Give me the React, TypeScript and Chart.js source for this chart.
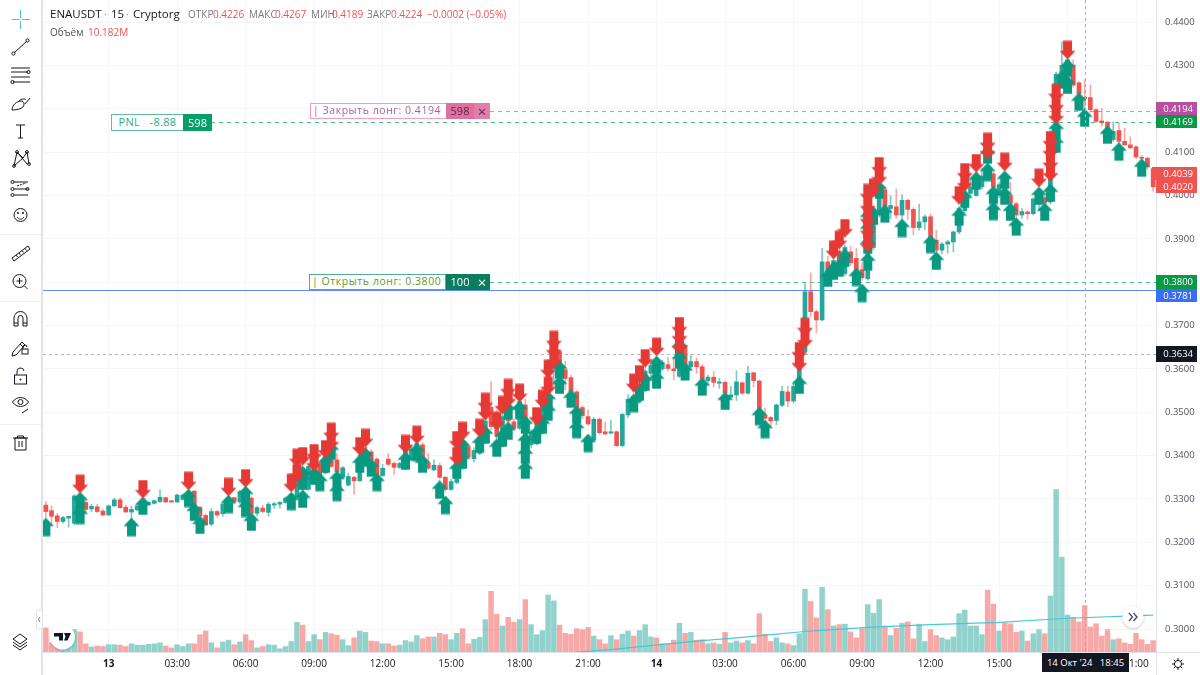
import React, { useEffect, useRef } from 'react';
import { Chart, registerables } from 'chart.js';

Chart.register(...registerables);

const FONT = '"Open Sans", sans-serif';

// 15 minute candles, 195 of them, starting 12 Oct 21:15
const times: string[] = [];
for (let i = 0; i < 195; i++) {
    const mins = (i - 11) * 15;
    const day = mins < 0 ? 12 : mins < 1440 ? 13 : 14;
    const m = ((mins % 1440) + 1440) % 1440;
    times.push(`${day} ${String(Math.floor(m / 60)).padStart(2, '0')}:${String(m % 60).padStart(2, '0')}`);
}

const axisTickTimes = ['13 00:00', '13 03:00', '13 06:00', '13 09:00', '13 12:00', '13 15:00', '13 18:00', '13 21:00', '14 00:00', '14 03:00', '14 06:00', '14 09:00', '14 12:00', '14 15:00', '14 18:00', '14 21:00'];
const axisTickLabels = ['13', '03:00', '06:00', '09:00', '12:00', '15:00', '18:00', '21:00', '14', '03:00', '06:00', '09:00', '12:00', '15:00', '18:00', '21:00'];

const opens = [
    .3286, .3273, .3261, .3248, .3256, .3244, .3305, .3292, .3277, .3282, .3272, .3263, .3284, .3298, .3281, .3270, .3275, .3276, .3287, .3290,
    .3294, .3303, .3296, .3293, .3299, .3300, .3318, .3281, .3262, .3242, .3271, .3266, .3283, .3303, .3293, .3320, .3302, .3267, .3279, .3269,
    .3286, .3288, .3292, .3290, .3305, .3355, .3322, .3355, .3378, .3360, .3409, .3390, .3350, .3332, .3350, .3342, .3383, .3409, .3392, .3354,
    .3392, .3382, .3373, .3371, .3390, .3412, .3425, .3383, .3367, .3377, .3350, .3322, .3338, .3425, .3421, .3393, .3405, .3440, .3512, .3500,
    .3445, .3535, .3478, .3463, .3517, .3425, .3427, .3480, .3560, .3600, .3640, .3598, .3580, .3547, .3511, .3490, .3436, .3484, .3455, .3452,
    .3455, .3423, .3494, .3535, .3525, .3550, .3590, .3610, .3600, .3610, .3600, .3583, .3655, .3605, .3617, .3605, .3573, .3581, .3567, .3569,
    .3535, .3540, .3568, .3544, .3591, .3572, .3494, .3488, .3481, .3516, .3547, .3526, .3560, .3640, .3778, .3732, .3713, .3847, .3825, .3870,
    .3820, .3870, .3855, .3829, .3808, .3880, .3955, .4013, .3970, .3974, .3955, .3989, .3968, .3926, .3939, .3951, .3897, .3874, .3888, .3893,
    .3916, .3965, .4005, .4000, .4020, .4060, .4050, .4000, .4040, .4000, .3981, .3955, .3962, .3958, .3990, .3995, .3985, .4145, .4280, .4290,
    .4301, .4260, .4226, .4226, .4198, .4172, .4169, .4129, .4150, .4125, .4117, .4112, .4088, .4086, .4062,
];
const closes = [
    .3271, .3260, .3248, .3257, .3260, .3307, .3275, .3276, .3283, .3271, .3263, .3284, .3298, .3280, .3270, .3276, .3284, .3290, .3292, .3296,
    .3304, .3293, .3293, .3309, .3309, .3315, .3283, .3261, .3240, .3271, .3263, .3288, .3302, .3294, .3317, .3280, .3267, .3280, .3271, .3288,
    .3289, .3292, .3302, .3310, .3355, .3322, .3375, .3382, .3344, .3413, .3375, .3363, .3372, .3352, .3342, .3386, .3413, .3390, .3355, .3371,
    .3380, .3373, .3382, .3413, .3415, .3428, .3383, .3371, .3378, .3350, .3322, .3340, .3420, .3400, .3397, .3412, .3440, .3480, .3467, .3445,
    .3490, .3480, .3463, .3525, .3428, .3455, .3490, .3540, .3600, .3640, .3613, .3578, .3547, .3505, .3492, .3473, .3484, .3453, .3450, .3455,
    .3423, .3495, .3530, .3525, .3555, .3595, .3608, .3595, .3615, .3601, .3596, .3660, .3605, .3617, .3605, .3576, .3581, .3569, .3570, .3545,
    .3540, .3570, .3544, .3590, .3573, .3495, .3486, .3480, .3517, .3548, .3526, .3560, .3640, .3778, .3732, .3713, .3847, .3824, .3850, .3845,
    .3880, .3845, .3828, .3810, .3880, .3955, .4010, .3963, .3977, .3955, .3989, .3968, .3926, .3939, .3951, .3874, .3874, .3888, .3893, .3916,
    .3970, .4005, .4020, .4040, .4045, .4040, .4020, .4025, .4015, .3982, .3955, .3963, .3958, .3992, .4010, .3983, .4145, .4280, .4300, .4313,
    .4255, .4234, .4224, .4198, .4171, .4168, .4135, .4148, .4125, .4117, .4110, .4089, .4086, .4066, .4020,
];
const highs = [
    .3294, .3284, .3267, .3260, .3261, .3310, .3310, .3296, .3288, .3288, .3276, .3286, .3302, .3302, .3286, .3284, .3288, .3295, .3294, .3298,
    .3321, .3304, .3297, .3311, .3312, .3318, .3320, .3283, .3265, .3278, .3273, .3290, .3305, .3304, .3320, .3322, .3305, .3283, .3285, .3292,
    .3292, .3294, .3305, .3312, .3358, .3360, .3378, .3385, .3382, .3416, .3412, .3405, .3375, .3360, .3352, .3390, .3416, .3414, .3395, .3380,
    .3405, .3385, .3385, .3416, .3425, .3435, .3430, .3405, .3390, .3383, .3352, .3345, .3425, .3440, .3425, .3418, .3448, .3490, .3571, .3505,
    .3495, .3540, .3485, .3530, .3530, .3460, .3495, .3545, .3610, .3660, .3645, .3618, .3586, .3550, .3515, .3505, .3488, .3486, .3478, .3482,
    .3457, .3498, .3540, .3555, .3560, .3600, .3612, .3614, .3620, .3626, .3624, .3680, .3660, .3632, .3625, .3610, .3586, .3594, .3578, .3572,
    .3560, .3596, .3570, .3606, .3593, .3574, .3510, .3490, .3519, .3560, .3560, .3565, .3650, .3797, .3822, .3736, .3878, .3860, .3858, .3880,
    .3885, .3882, .3878, .3845, .3890, .3962, .4040, .4020, .4000, .4015, .4002, .3992, .3972, .3980, .3955, .3957, .3920, .3892, .3897, .3918,
    .3975, .4010, .4035, .4045, .4062, .4075, .4055, .4030, .4050, .4030, .3985, .3970, .3965, .3995, .4015, .4000, .4150, .4285, .4355, .4345,
    .4313, .4263, .4267, .4255, .4200, .4201, .4172, .4170, .4167, .4155, .4135, .4115, .4092, .4088, .4065,
];
const lows = [
    .3256, .3240, .3234, .3244, .3235, .3240, .3265, .3270, .3271, .3269, .3261, .3262, .3283, .3279, .3269, .3252, .3272, .3272, .3285, .3288,
    .3292, .3292, .3292, .3292, .3297, .3298, .3280, .3258, .3238, .3238, .3258, .3260, .3280, .3290, .3290, .3278, .3263, .3261, .3268, .3260,
    .3278, .3279, .3290, .3288, .3303, .3318, .3320, .3352, .3340, .3358, .3372, .3358, .3346, .3330, .3311, .3340, .3380, .3385, .3350, .3352,
    .3376, .3356, .3370, .3368, .3388, .3410, .3370, .3367, .3365, .3346, .3318, .3320, .3335, .3395, .3395, .3385, .3402, .3438, .3460, .3440,
    .3442, .3475, .3458, .3460, .3425, .3418, .3425, .3478, .3530, .3560, .3605, .3552, .3540, .3500, .3485, .3470, .3432, .3450, .3448, .3450,
    .3421, .3420, .3488, .3510, .3520, .3548, .3585, .3590, .3596, .3596, .3575, .3580, .3600, .3602, .3590, .3570, .3567, .3558, .3555, .3540,
    .3530, .3527, .3541, .3542, .3558, .3490, .3470, .3469, .3471, .3513, .3513, .3522, .3555, .3638, .3721, .3683, .3711, .3820, .3818, .3835,
    .3815, .3838, .3795, .3805, .3805, .3875, .3950, .3955, .3947, .3947, .3943, .3945, .3909, .3920, .3922, .3870, .3870, .3866, .3867, .3870,
    .3912, .3960, .4000, .3998, .4015, .4035, .4015, .3995, .4005, .3978, .3950, .3947, .3945, .3955, .3965, .3960, .3980, .4140, .4270, .4285,
    .4250, .4225, .4189, .4192, .4168, .4160, .4130, .4125, .4090, .4115, .4108, .4085, .4082, .4060, .4010,
];
const volumes = [
    5.3, 2.0, 1.5, 1.1, 1.8, 4.9, 4.4, 1.8, 1.1, 1.3, 1.2, 1.6, 1.6, 1.5, 1.2, 1.8, 1.5, 1.5, 1.7, 1.8,
    2.0, 1.3, 0.9, 1.6, 1.2, 1.8, 1.8, 3.8, 4.6, 2.0, 0.9, 2.2, 2.6, 1.6, 2.2, 3.8, 2.5, 0.9, 1.2, 1.6,
    1.5, 0.7, 1.2, 2.3, 6.5, 5.9, 2.3, 3.8, 2.7, 4.3, 4.0, 3.7, 2.7, 1.4, 3.1, 4.6, 4.3, 2.4, 2.3, 1.8,
    1.8, 1.3, 1.5, 2.5, 2.2, 3.6, 2.9, 3.3, 3.3, 4.1, 3.8, 2.7, 4.1, 5.1, 1.8, 2.8, 3.2, 7.1, 13.3, 8.3,
    5.7, 7.6, 6.5, 7.1, 11.5, 6.0, 3.8, 4.7, 12.5, 11.2, 5.9, 4.1, 3.9, 5.1, 4.9, 5.4, 3.5, 2.7, 1.8, 3.6,
    2.7, 3.9, 4.6, 3.5, 4.7, 6.0, 3.3, 3.1, 1.8, 1.8, 2.6, 6.3, 4.1, 4.3, 2.6, 2.7, 1.8, 2.0, 1.7, 4.3,
    2.0, 2.4, 2.0, 2.5, 1.8, 8.4, 3.9, 2.3, 3.1, 2.0, 1.8, 1.4, 4.0, 13.8, 11.1, 7.5, 14.2, 9.3, 5.7, 6.0,
    6.1, 4.4, 3.1, 5.1, 10.4, 8.5, 11.5, 5.7, 3.6, 5.2, 6.3, 6.6, 2.9, 6.1, 2.3, 4.9, 3.6, 3.1, 2.7, 3.3,
    8.4, 9.2, 5.7, 5.7, 3.8, 13.6, 10.5, 4.6, 6.4, 6.2, 4.3, 4.6, 2.4, 4.0, 4.9, 4.0, 12.3, 35.6, 20.8, 8.1,
    7.6, 6.6, 10.18, 5.5, 6.2, 3.5, 4.9, 2.7, 2.9, 2.0, 1.7, 4.1, 2.7, 1.7, 2.5,
];

// volume moving average, only the part that shows above the bottom of the pane
const volMaAt = [93, 99, 105, 109, 115, 121, 127, 133, 138, 144, 155, 167, 179, 194];
const volMa = [0, 0.5, 1.3, 1.8, 2.5, 3.1, 3.8, 4.5, 4.9, 5.4, 6.0, 6.5, 7.4, 8.1];

const sellAt = [6, 17, 25, 32, 35, 43, 44, 44, 45, 47, 47, 49, 50, 50, 55, 56, 63, 65, 72, 72, 73, 76, 77, 77, 79, 80, 81, 81, 83, 86, 87, 88, 88, 89, 89, 89, 103, 104, 105, 107, 111, 111, 111, 132, 132, 133, 133, 138, 139, 140, 144, 144, 144, 144, 144, 145, 146, 146, 160, 161, 161, 163, 165, 165, 168, 174, 176, 176, 176, 176, 177, 177, 177, 179];
const sellPrice = [.3335, .3323, .3342, .3328, .3348, .3337, .3360, .3395, .3399, .3406, .3385, .3415, .3434, .3455, .3422, .3441, .3427, .3448, .3399, .3436, .3457, .3464, .3524, .3503, .3480, .3517, .3556, .3533, .3545, .3491, .3531, .3600, .3561, .3667, .3646, .3623, .3568, .3588, .3625, .3651, .3699, .3678, .3655, .3616, .3641, .3669, .3697, .3875, .3898, .3925, .3891, .3921, .3948, .3978, .4006, .4018, .4045, .4068, .4001, .4031, .4054, .4075, .4105, .4124, .4078, .4041, .4054, .4078, .4105, .4128, .4186, .4211, .4237, .4336];

const buyAt = [0, 6, 6, 15, 17, 25, 26, 27, 32, 35, 35, 36, 43, 45, 45, 45, 47, 48, 49, 50, 51, 51, 55, 56, 57, 58, 63, 65, 66, 69, 70, 72, 73, 73, 76, 77, 79, 80, 81, 81, 83, 84, 84, 84, 84, 86, 87, 88, 88, 90, 90, 92, 93, 93, 95, 103, 104, 105, 107, 107, 111, 111, 112, 115, 119, 125, 126, 132, 137, 138, 139, 140, 142, 143, 144, 144, 144, 144, 145, 146, 147, 150, 155, 156, 160, 161, 163, 165, 165, 166, 166, 168, 168, 169, 170, 174, 175, 176, 177, 177, 178, 179, 179, 181, 182, 186, 188, 192];
const buyPrice = [.3235, .3295, .3263, .3235, .3284, .3302, .3270, .3240, .3288, .3309, .3279, .3247, .3295, .3300, .3342, .3355, .3353, .3339, .3381, .3411, .3344, .3316, .3381, .3397, .3372, .3339, .3388, .3408, .3381, .3321, .3286, .3367, .3420, .3390, .3427, .3448, .3418, .3441, .3457, .3503, .3505, .3471, .3432, .3402, .3367, .3448, .3471, .3501, .3528, .3598, .3563, .3531, .3494, .3461, .3429, .3521, .3547, .3570, .3609, .3575, .3648, .3621, .3594, .3559, .3526, .3491, .3461, .3563, .3810, .3826, .3833, .3856, .3812, .3775, .3948, .3921, .3886, .3847, .3953, .4013, .3958, .3925, .3888, .3849, .3951, .3992, .4034, .4054, .4094, .4001, .3964, .4036, .3999, .3962, .3928, .3999, .3962, .4006, .4119, .4151, .4267, .4294, .4255, .4216, .4179, .4140, .4101, .4064];

const PRICE_UP = '#26a69a';
const PRICE_DOWN = '#ef5350';

function makeArrow(up: boolean, color: string) {
    const c = document.createElement('canvas');
    c.width = 17;
    c.height = 19;
    const g = c.getContext('2d')!;
    g.fillStyle = color;
    g.beginPath();
    const pts = [[8.5, 0], [16.5, 8.5], [13, 8.5], [13, 18.5], [4, 18.5], [4, 8.5], [0.5, 8.5]];
    pts.forEach(([x, y], i) => {
        const py = up ? y : 19 - y;
        if (i === 0) g.moveTo(x, py);
        else g.lineTo(x, py);
    });
    g.closePath();
    g.fill();
    return c;
}

// order lines, kept on the price scale
const priceLines = [
    { price: 0.4194, from: 490, color: '#d98cc4', dash: [4, 4] },
    { price: 0.4169, from: 211, color: '#4cc285', dash: [4, 4] },
    { price: 0.38, from: 490, color: '#4cc285', dash: [4, 4] },
    { price: 0.3781, from: 43, color: '#5b8cff', dash: [] as number[] },
    { price: 0.3634, from: 43, color: '#b4b6bc', dash: [3, 3] },
];

const overlayLines = {
    id: 'overlayLines',
    beforeDatasetsDraw(chart: any) {
        const { ctx, chartArea, scales } = chart;
        ctx.save();
        ctx.lineWidth = 1;
        priceLines.forEach((l) => {
            const y = Math.round(scales.y.getPixelForValue(l.price)) + 0.5;
            ctx.strokeStyle = l.color;
            ctx.setLineDash(l.dash);
            ctx.beginPath();
            ctx.moveTo(l.from, y);
            ctx.lineTo(chartArea.right, y);
            ctx.stroke();
        });
        ctx.restore();
    },
    afterDatasetsDraw(chart: any) {
        const { ctx, chartArea, scales } = chart;
        const x = Math.round(scales.x.getPixelForValue(182)) + 0.5;
        ctx.save();
        ctx.lineWidth = 1;
        ctx.strokeStyle = '#a9acb3';
        ctx.setLineDash([3, 3]);
        ctx.beginPath();
        ctx.moveTo(x, chartArea.top);
        ctx.lineTo(x, chartArea.bottom);
        ctx.stroke();
        ctx.restore();
    },
};

// the scales keep half a label of margin otherwise, the pane has to touch the top
const noPad = (s: any) => {
    s.paddingTop = 0;
    s.paddingBottom = 0;
    s.paddingLeft = 0;
    s.paddingRight = 0;
    if (s._margins) {
        s._margins.top = 0;
        s._margins.bottom = 0;
        s._margins.left = 0;
        s._margins.right = 0;
    }
};

const Txt: React.FC<{ x: number; y: number; size?: number; color?: string; weight?: number; children: React.ReactNode }> = ({ x, y, size = 10, color = '#131722', weight = 400, children }) => (
    <span style={{ position: 'absolute', left: x, top: y, fontSize: size, lineHeight: '14px', color, fontWeight: weight, whiteSpace: 'pre' }}>{children}</span>
);

const Box: React.FC<{ x: number; y: number; w: number; h: number; bg?: string; border?: string; color?: string; size?: number; align?: 'left' | 'center'; spacing?: number; children?: React.ReactNode }> = ({ x, y, w, h, bg, border, color = '#fff', size = 10, align = 'center', spacing = 0, children }) => (
    <div
        style={{
            position: 'absolute', left: x, top: y, width: w, height: h, background: bg, boxSizing: 'border-box',
            border: border ? `1.5px solid ${border}` : undefined, color, fontSize: size, lineHeight: `${h - (border ? 3 : 0)}px`, textAlign: align,
            paddingLeft: align === 'left' ? 2 : 0, letterSpacing: spacing, whiteSpace: 'pre',
        }}
    >
        {children}
    </div>
);

const priceTags = [
    { label: '0.4194', x: 1156, y: 102, h: 13, bg: '#b84fa0' },
    { label: '0.4169', x: 1156, y: 115, h: 13, bg: '#089945' },
    { label: '0.4039', x: 1152, y: 167, h: 13, bg: '#ef5350' },
    { label: '0.4020', x: 1156, y: 180, h: 13, bg: '#ef5350' },
    { label: '0.3800', x: 1156, y: 275, h: 14, bg: '#089945' },
    { label: '0.3781', x: 1156, y: 289, h: 13, bg: '#3c6ef5' },
    { label: '0.3634', x: 1156, y: 346, h: 16, bg: '#131722' },
];

const ICON = { fill: 'none', stroke: '#131722', strokeWidth: 1 };

const Toolbar: React.FC = () => (
    <svg width={44} height={675} style={{ position: 'absolute', left: 0, top: 0 }}>
        <rect x={0} y={0} width={41} height={675} fill="#fff" />
        <rect x={41} y={0} width={2} height={675} fill="#e0e3eb" />
        <line x1={0} x2={41} y1={234.5} y2={234.5} stroke="#eceef2" />
        <line x1={0} x2={41} y1={301.5} y2={301.5} stroke="#eceef2" />
        <line x1={0} x2={41} y1={424.5} y2={424.5} stroke="#eceef2" />
        <g stroke="#4cc7bd" strokeWidth={1} fill="none">
            <path d="M20.5 10v8M20.5 21v8M11.5 19.5h8M22 19.5h8" />
        </g>
        <g {...ICON}>
            <path d="M14 53L27 41" /><circle cx={13.5} cy={53.5} r={1.6} /><circle cx={27.5} cy={40.5} r={1.6} />
            <path d="M11 68h19M11 72h17M11 77h19M13 82h17" /><circle cx={28.5} cy={72} r={1.6} /><circle cx={12.5} cy={82} r={1.6} />
            <path d="M12 110c0-5 5-9 9-9 3 0 4 3 2 6-2 2-7 3-11 3zM19 101c2-2 6-3 7-1M25 104l5-6" />
            <path d="M16 125h9M20.5 125v13M18 138h5" />
            <path d="M14 166l3-14 6 6 4-6 2 12M17 152l10 12M23 158l-9 8" /><circle cx={17} cy={152} r={1.4} /><circle cx={27} cy={152} r={1.4} /><circle cx={14} cy={166} r={1.4} /><circle cx={29} cy={164} r={1.4} />
            <path d="M14 182h14M14 189h14M14 195h14" /><path d="M17 186l9-3" strokeDasharray="2 1" /><circle cx={12.5} cy={182} r={1.5} /><circle cx={12.5} cy={189} r={1.5} /><circle cx={12.5} cy={195} r={1.5} /><circle cx={27.5} cy={189} r={1.5} />
            <circle cx={20.5} cy={215} r={6.5} /><circle cx={18} cy={213} r={0.7} /><circle cx={23} cy={213} r={0.7} /><path d="M17 217c2 3 5 3 7 0" />
            <path d="M12 258l16-12 2 3-16 12zM16 255l1.5 2M19 253l1.5 2M22 250.5l1.5 2M25 248.5l1.5 2" />
            <circle cx={19.5} cy={281} r={6.5} /><path d="M24.5 286l3 3M19.5 278v6M16.5 281h6" />
            <path d="M14 326v-8a6.5 6.5 0 0 1 13 0v8h-4v-8a2.5 2.5 0 0 0-5 0v8zM14 323h4M23 323h4" />
            <path d="M12 356l1-4 9-10 3 3-9 10zM20 344l3 3" /><rect x={22} y={349} width={6} height={5} /><path d="M23 349v-2a2 2 0 0 1 4 0" />
            <rect x={14.5} y={375} width={12} height={9} /><path d="M17 375v-3a3.5 3.5 0 0 1 7-1" /><circle cx={20.5} cy={379.5} r={0.6} />
            <path d="M12.5 402c4-6 12-6 16 0-4 6-12 6-16 0z" /><circle cx={20.5} cy={402} r={2.5} /><path d="M22 413l6-4" />
            <path d="M15 438h11v12h-11zM13 438h15M17.5 438v-2h6v2M19 441v6M22 441v6" />
            <path d="M20 634l7 5-7 5-7-5zM13 642l7 5 7-5M13 645l7 5 7-5" />
        </g>
        <rect x={36.5} y={610} width={6} height={19} rx={2} fill="#fff" stroke="#e0e3eb" />
        <path d="M40 617l-1.5 2.5 1.5 2.5" fill="none" stroke="#787b86" />
    </svg>
);

const App: React.FC = () => {
    const chartRef = useRef<HTMLCanvasElement>(null);

    useEffect(() => {
        const ctx = chartRef.current?.getContext('2d');
        if (!ctx) return;
        const colors = closes.map((c, i) => (c >= opens[i] ? PRICE_UP : PRICE_DOWN));
        const volColors = closes.map((c, i) => (c >= opens[i] ? 'rgba(38,166,154,0.5)' : 'rgba(239,83,80,0.5)'));
        const wickColors = closes.map((c, i) => (c >= opens[i] ? 'rgba(38,166,154,0.6)' : 'rgba(239,83,80,0.5)'));
        const tickOf = (i: number) => {
            const k = axisTickTimes.indexOf(times[i]);
            return k === -1 ? '' : axisTickLabels[k];
        };
        const chart = new Chart(ctx, {
            data: {
                labels: times,
                datasets: [
                    { type: 'bar', yAxisID: 'vol', order: 6, data: volumes, backgroundColor: volColors, barThickness: 4.8, grouped: false },
                    { type: 'line', yAxisID: 'vol', order: 5, data: volMaAt.map((n, i) => ({ x: times[n], y: volMa[i] })), borderColor: 'rgba(60,200,215,0.95)', borderWidth: 1.2, pointRadius: 0 },
                    { type: 'bar', yAxisID: 'y', order: 4, data: lows.map((l, i) => [l, highs[i]]), backgroundColor: wickColors, barThickness: 1, grouped: false },
                    { type: 'bar', yAxisID: 'y', order: 3, data: opens.map((o, i) => [o, closes[i]]), backgroundColor: colors, barThickness: 4, minBarLength: 1, grouped: false },
                    { type: 'line', yAxisID: 'y', order: 2, showLine: false, data: buyAt.map((n, i) => ({ x: times[n], y: buyPrice[i] })), pointStyle: makeArrow(true, '#089981'), pointRadius: 8 },
                    { type: 'line', yAxisID: 'y', order: 1, showLine: false, data: sellAt.map((n, i) => ({ x: times[n], y: sellPrice[i] })), pointStyle: makeArrow(false, '#e53935'), pointRadius: 8 },
                ] as any,
            },
            options: {
                responsive: false,
                animation: false,
                devicePixelRatio: 1,
                layout: { autoPadding: false, padding: { left: 43, top: 0, right: 0, bottom: 0 } },
                plugins: { legend: { display: false }, tooltip: { enabled: false } },
                scales: {
                    x: {
                        type: 'category',
                        offset: true,
                        afterFit: (s: any) => { s.height = 23; noPad(s); },
                        border: { color: '#e0e3eb' },
                        grid: { offset: false, drawTicks: false, color: (c: any) => (tickOf(c.index) ? '#f4f5f8' : 'transparent') },
                        ticks: {
                            autoSkip: false,
                            maxRotation: 0,
                            padding: 6,
                            color: '#131722',
                            font: (c: any) => ({ family: FONT, size: 10, weight: c.tick && /^1[34]$/.test(c.tick.label) ? 'bold' : 'normal' }),
                            callback: (_v: any, i: number) => tickOf(i),
                        },
                    },
                    y: {
                        position: 'right',
                        min: 0.2947,
                        max: 0.4451,
                        afterFit: (s: any) => { s.width = 44; noPad(s); },
                        border: { color: '#e0e3eb' },
                        grid: { drawTicks: false, color: '#f4f5f8' },
                        ticks: {
                            stepSize: 0.01,
                            includeBounds: false,
                            padding: 9,
                            color: '#50535e',
                            font: { family: FONT, size: 9.5 },
                            callback: (v: any) => Number(v).toFixed(4),
                        },
                    },
                    vol: { display: false, min: 0, max: 143 },
                },
            } as any,
            plugins: [overlayLines],
        });
        return () => chart.destroy();
    }, []);

    return (
        <div style={{ position: 'fixed', left: 0, top: 0, width: 1200, height: 675, overflow: 'hidden', background: '#fff', fontFamily: FONT }}>
            <canvas ref={chartRef} width={1200} height={675} style={{ position: 'absolute', left: 0, top: 0 }} />
            <Toolbar />
            <div style={{ position: 'absolute', left: 1156, top: 652, width: 1, height: 23, background: '#e0e3eb' }} />
            <div style={{ position: 'absolute', left: 1156, top: 652, width: 44, height: 1, background: '#e0e3eb' }} />

            <Txt x={50} y={7} size={11.5}>ENAUSDT</Txt>
            <Txt x={104} y={7} size={11.5} color="#9598a1">·</Txt>
            <Txt x={111} y={7} size={11.5}>15</Txt>
            <Txt x={126} y={7} size={11.5} color="#9598a1">·</Txt>
            <Txt x={133} y={7} size={11.5}>Cryptorg</Txt>
            <Txt x={188} y={7} color="#787b86">ОТКР</Txt>
            <Txt x={213} y={7} color="#ef5350">0.4226</Txt>
            <Txt x={249} y={7} color="#787b86">МАКС</Txt>
            <Txt x={275} y={7} color="#ef5350">0.4267</Txt>
            <Txt x={311} y={7} color="#787b86">МИН</Txt>
            <Txt x={332} y={7} color="#ef5350">0.4189</Txt>
            <Txt x={367} y={7} color="#787b86">ЗАКР</Txt>
            <Txt x={391} y={7} color="#ef5350">0.4224</Txt>
            <Txt x={427} y={7} color="#ef5350">−0.0002 (−0.05%)</Txt>
            <Txt x={50} y={25} color="#50535e">Объём</Txt>
            <Txt x={88} y={25} color="#ef5350">10.182M</Txt>

            <Box x={111} y={114} w={73} h={17} bg="#fff" border="#5fbd9d" color="#1fb184" size={11} spacing={0.3}>{'PNL   -8.88'}</Box>
            <Box x={183} y={114} w={29} h={17} bg="#089e68" size={11}>598</Box>

            <Box x={310} y={103} w={137} h={16} bg="#fff" border="#f59ac3" color="#b0608c" size={10.5} align="left" spacing={0.55}>{'| Закрыть лонг: 0.4194'}</Box>
            <Box x={446} y={103} w={28} h={16} bg="#df6fa0" color="#5c2a46" size={11}>598</Box>
            <Box x={474} y={103} w={16} h={16} bg="#e080aa" color="#5c2a46" size={15}>×</Box>

            <Box x={309} y={274} w={137} h={16} bg="#fff" border="#4fae98" color="#5f9a2c" size={10.5} align="left" spacing={0.55}>{'| Открыть лонг: 0.3800'}</Box>
            <Box x={446} y={274} w={28} h={16} bg="#0a7d5f" size={11}>100</Box>
            <Box x={474} y={274} w={16} h={16} bg="#0a7d5f" size={15}>×</Box>

            {priceTags.map((t) => (
                <Box key={t.label} x={t.x} y={t.y} w={1197 - t.x} h={t.h} bg={t.bg} size={9.5}>
                    <span style={{ position: 'absolute', right: 4 }}>{t.label}</span>
                </Box>
            ))}

            <Box x={1042} y={653} w={87} h={19} bg="#131722" size={9.5}>{"14 Окт '24   18:45"}</Box>

            <svg width={1200} height={675} style={{ position: 'absolute', left: 0, top: 0, pointerEvents: 'none' }}>
                <defs>
                    <filter id="sh" x="-30%" y="-30%" width="160%" height="160%"><feDropShadow dx={0} dy={1} stdDeviation={1.5} floodOpacity={0.25} /></filter>
                </defs>
                <circle cx={62.5} cy={637} r={12.5} fill="#fff" filter="url(#sh)" />
                <path d="M54 633h9v7.5h-4v-4h-5zM64 633h7l-3.5 7.5h-3.5l1.5-4z" fill="#131722" />
                <circle cx={1133} cy={617} r={10.5} fill="#fff" filter="url(#sh)" />
                <path d="M1129 613l3.5 4-3.5 4M1133.5 613l3.5 4-3.5 4" fill="none" stroke="#50535e" strokeWidth={1.4} />
                <g fill="none" stroke="#131722" strokeWidth={1}>
                    <circle cx={1178} cy={664} r={3.6} />
                    <path d="M1178 658v2M1178 668v2M1172 664h2M1182 664h2M1173.8 659.8l1.4 1.4M1180.8 666.8l1.4 1.4M1173.8 668.2l1.4-1.4M1180.8 661.2l1.4-1.4" />
                </g>
            </svg>
        </div>
    );
};

export default App;
